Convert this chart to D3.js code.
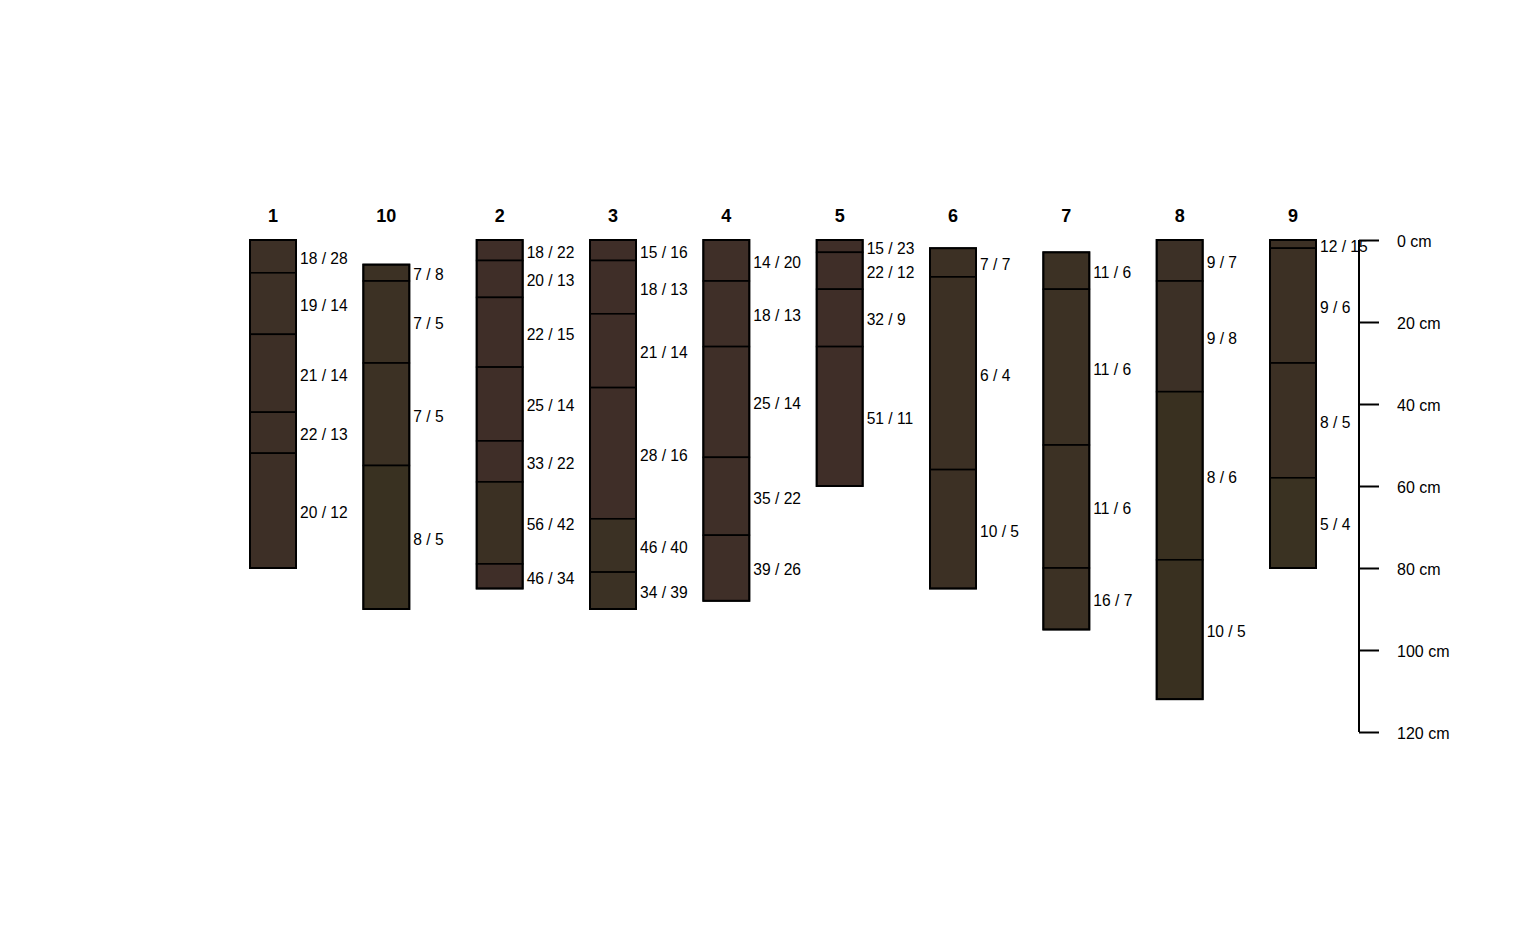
<!DOCTYPE html>
<html>
<head>
<meta charset="utf-8">
<script src="https://cdn.jsdelivr.net/npm/d3@7"></script>
<style>
html, body { margin: 0; padding: 0; background: #fff; }
svg { display: block; font-family: "Liberation Sans", Arial, sans-serif; }
</style>
</head>
<body>
<svg id="chart" width="1536" height="950"></svg>
<script>
// Profile order as drawn
const profileIds = ["1", "10", "2", "3", "4", "5", "6", "7", "8", "9"];

// Horizon boundary depths (cm) per profile, top to bottom
const depths1  = [0, 8, 23, 42, 52, 80];
const depths10 = [6, 10, 30, 55, 90];
const depths2  = [0, 5, 14, 31, 49, 59, 79, 85];
const depths3  = [0, 5, 18, 36, 68, 81, 90];
const depths4  = [0, 10, 26, 53, 72, 88];
const depths5  = [0, 3, 12, 26, 60];
const depths6  = [2, 9, 56, 85];
const depths7  = [3, 12, 50, 80, 95];
const depths8  = [0, 10, 37, 78, 112];
const depths9  = [0, 2, 30, 58, 80];

// Horizon labels per profile
const labels1  = ["18 / 28", "19 / 14", "21 / 14", "22 / 13", "20 / 12"];
const labels10 = ["7 / 8", "7 / 5", "7 / 5", "8 / 5"];
const labels2  = ["18 / 22", "20 / 13", "22 / 15", "25 / 14", "33 / 22", "56 / 42", "46 / 34"];
const labels3  = ["15 / 16", "18 / 13", "21 / 14", "28 / 16", "46 / 40", "34 / 39"];
const labels4  = ["14 / 20", "18 / 13", "25 / 14", "35 / 22", "39 / 26"];
const labels5  = ["15 / 23", "22 / 12", "32 / 9", "51 / 11"];
const labels6  = ["7 / 7", "6 / 4", "10 / 5"];
const labels7  = ["11 / 6", "11 / 6", "11 / 6", "16 / 7"];
const labels8  = ["9 / 7", "9 / 8", "8 / 6", "10 / 5"];
const labels9  = ["12 / 15", "9 / 6", "8 / 5", "5 / 4"];

// Horizon colours per profile
const colors1  = ["#3d3026", "#3d3026", "#3d2f26", "#3d2f26", "#3d2f26"];
const colors10 = ["#3c3124", "#3c3124", "#3c3124", "#393121"];
const colors2  = ["#3f2e28", "#3f2e28", "#3f2e28", "#3f2e28", "#3f2e28", "#3b3023", "#3f2e28"];
const colors3  = ["#3f2e28", "#3f2e28", "#3f2e28", "#3f2e28", "#3b3124", "#3b3124"];
const colors4  = ["#3f2f28", "#3f2f28", "#3f2f28", "#3f2f28", "#3f2f28"];
const colors5  = ["#3f2e28", "#3f2e28", "#3f2e28", "#3f2e28"];
const colors6  = ["#3c3024", "#3c3024", "#3c3024"];
const colors7  = ["#3c3124", "#3c3124", "#3c3124", "#3c3124"];
const colors8  = ["#3c3026", "#3c3026", "#393020", "#393020"];
const colors9  = ["#3c3024", "#3c3024", "#3c3024", "#3a3222"];

// Depth axis ticks
const axisTicks = [0, 20, 40, 60, 80, 100, 120];

const profiles = [
  {id: "1",  d: depths1,  l: labels1,  c: colors1},
  {id: "10", d: depths10, l: labels10, c: colors10},
  {id: "2",  d: depths2,  l: labels2,  c: colors2},
  {id: "3",  d: depths3,  l: labels3,  c: colors3},
  {id: "4",  d: depths4,  l: labels4,  c: colors4},
  {id: "5",  d: depths5,  l: labels5,  c: colors5},
  {id: "6",  d: depths6,  l: labels6,  c: colors6},
  {id: "7",  d: depths7,  l: labels7,  c: colors7},
  {id: "8",  d: depths8,  l: labels8,  c: colors8},
  {id: "9",  d: depths9,  l: labels9,  c: colors9}
];

const svg = d3.select("#chart");
const x = d3.scalePoint().domain(profileIds).range([273, 1293]);
const y = d3.scaleLinear().domain([0, 120]).range([240, 732]);
const halfW = 23;

const g = svg.append("g");

profiles.forEach(p => {
  const cx = x(p.id);
  const hz = p.l.map((lab, i) => ({top: p.d[i], bot: p.d[i + 1], lab, col: p.c[i]}));
  const pg = g.append("g");

  // title
  pg.append("text")
    .attr("x", cx).attr("y", y(0) - 18)
    .attr("text-anchor", "middle")
    .attr("font-weight", "bold")
    .attr("font-size", 18)
    .attr("fill", "#000")
    .text(p.id);

  pg.selectAll("rect.hz").data(hz).enter().append("rect")
    .attr("class", "hz")
    .attr("x", cx - halfW)
    .attr("y", d => y(d.top))
    .attr("width", halfW * 2)
    .attr("height", d => y(d.bot) - y(d.top))
    .attr("fill", d => d.col)
    .attr("stroke", "#000")
    .attr("stroke-width", 1.6);

  // outline
  pg.append("rect")
    .attr("x", cx - halfW)
    .attr("y", y(p.d[0]))
    .attr("width", halfW * 2)
    .attr("height", y(p.d[p.d.length - 1]) - y(p.d[0]))
    .attr("fill", "none")
    .attr("stroke", "#000")
    .attr("stroke-width", 2);

  pg.selectAll("text.lab").data(hz).enter().append("text")
    .attr("class", "lab")
    .attr("x", cx + halfW + 4)
    .attr("y", d => (y(d.top) + y(d.bot)) / 2)
    .attr("dy", "0.48em")
    .attr("font-size", 15.6)
    .attr("fill", "#000")
    .text(d => d.lab);
});

// depth axis
const axisX = 1359;
const axis = d3.axisRight(y)
  .tickValues(axisTicks)
  .tickSize(20)
  .tickSizeOuter(0)
  .tickPadding(18)
  .tickFormat(d => d + " cm");

const ag = svg.append("g")
  .attr("transform", `translate(${axisX},0)`)
  .call(axis);
ag.select(".domain").attr("stroke", "#000").attr("stroke-width", 2).attr("d", `M0,${y(0)}V${y(120)}`);
ag.selectAll(".tick line").attr("stroke", "#000").attr("stroke-width", 2);
ag.selectAll(".tick text")
  .attr("font-size", 16)
  .attr("fill", "#000")
  .attr("font-family", "Liberation Sans, Arial, sans-serif")
  .attr("dy", "0.42em");
</script>
</body>
</html>
